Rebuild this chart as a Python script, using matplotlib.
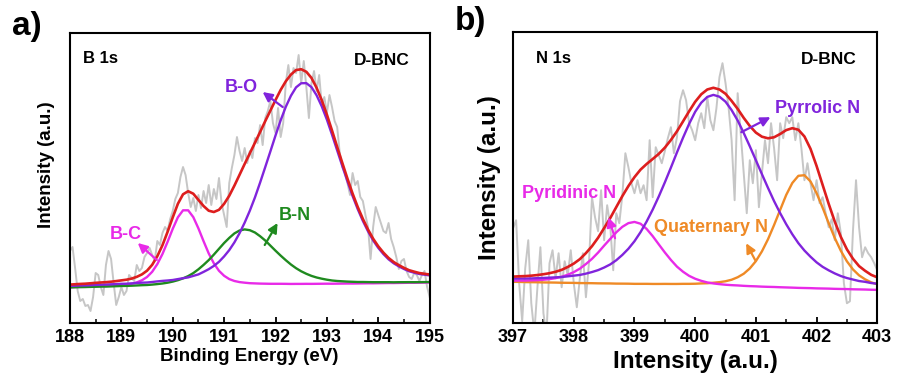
import numpy as np
import matplotlib
matplotlib.use("Agg")
import matplotlib.pyplot as plt
from matplotlib.ticker import MultipleLocator

plt.rcParams['font.family'] = ['Liberation Sans', 'DejaVu Sans']
plt.rcParams['font.weight'] = 'bold'
plt.rcParams['axes.labelweight'] = 'bold'

# ---------------- panel a: B 1s ----------------
be_a = np.round(np.arange(188.0, 195.001, 0.1), 1)
raw_be_a = np.round(np.arange(188.0, 195.001, 0.05), 2)
raw_a = [72, 76, 55, 32, 22, 24, 17, 18, 12, 26, 50, 48, 36, 28, 58, 72, 64, 40, 18, 26,
         36, 28, 32, 48, 45, 42, 58, 52, 55, 66, 70, 75, 68, 62, 82, 78, 90, 96, 92, 104,
         112, 124, 130, 146, 156, 148, 130, 116,
         125, 112, 128, 115, 132, 120, 138, 118, 134, 124, 145, 120,
         108, 96, 140, 155, 168, 186, 172, 162, 175, 160, 172, 165, 185, 180, 198, 178, 205, 212, 222, 200,
         190, 215, 186, 200, 240, 258, 236, 255, 250, 268, 240, 262, 236, 205,
         240, 252, 232, 248, 218, 226,
         210, 228, 216, 202, 196, 170, 156, 150, 140, 128, 150, 138, 142, 126, 122, 108, 96, 64, 96, 116,
         108, 100, 92, 90, 100, 84, 76, 66, 54, 62, 64, 52, 46, 44, 50, 48, 42, 48, 52, 36,
         26]
bg_a = [35.0, 35.1, 35.2, 35.2, 35.3, 35.4, 35.5, 35.5, 35.6, 35.7,
        35.8, 35.8, 35.9, 36.0, 36.1, 36.1, 36.2, 36.3, 36.4, 36.4,
        36.5, 36.6, 36.7, 36.7, 36.8, 36.9, 37.0, 37.0, 37.1, 37.2,
        37.3, 37.3, 37.4, 37.5, 37.6, 37.6, 37.7, 37.8, 37.9, 37.9,
        38.0, 38.1, 38.2, 38.2, 38.3, 38.4, 38.5, 38.5, 38.6, 38.7,
        38.8, 38.8, 38.9, 39.0, 39.1, 39.1, 39.2, 39.3, 39.4, 39.4,
        39.5, 39.6, 39.7, 39.7, 39.8, 39.9, 40.0, 40.0, 40.1, 40.2,
        40.3]
b_c = [0.7, 0.8, 0.85, 0.95, 1.1, 1.2, 1.3, 1.4, 1.6, 1.9,
       2.2, 2.7, 3.4, 4.6, 6.6, 9.9, 15.0, 22.6, 32.6, 44.8,
       57.7, 69.1, 76.0, 76.0, 69.1, 57.7, 44.8, 32.6, 22.6, 15.0,
       9.9, 6.6, 4.6, 3.4, 2.7, 2.2, 1.9, 1.6, 1.4, 1.3,
       1.2, 1.1, 0.95, 0.85, 0.8, 0.7, 0.66, 0.62, 0.58, 0.54,
       0.5, 0.47, 0.44, 0.41, 0.38, 0.36, 0.34, 0.32, 0.3, 0.29,
       0.28, 0.27, 0.26, 0.25, 0.24, 0.23, 0.22, 0.21, 0.2, 0.2,
       0.19]
b_n = [0.6, 0.65, 0.7, 0.75, 0.8, 0.85, 0.9, 0.95, 1.0, 1.1,
       1.2, 1.3, 1.4, 1.55, 1.7, 1.9, 2.2, 2.6, 3.1, 3.9,
       4.9, 6.2, 7.9, 10.2, 13.1, 16.8, 21.1, 25.9, 31.3, 37.0,
       42.7, 47.8, 52.2, 55.0, 56.0, 55.2, 52.8, 49.0, 44.6, 39.5,
       34.3, 29.3, 24.6, 20.3, 16.5, 13.3, 10.7, 8.6, 6.9, 5.6,
       4.5, 3.7, 3.1, 2.7, 2.3, 2.1, 1.8, 1.7, 1.5, 1.4,
       1.3, 1.2, 1.1, 1.0, 1.0, 0.9, 0.85, 0.8, 0.75, 0.7,
       0.7]
b_o = [2.1, 2.2, 2.3, 2.4, 2.5, 2.7, 2.8, 3.0, 3.1, 3.2,
       3.4, 3.5, 3.7, 4.0, 4.2, 4.4, 4.8, 5.3, 5.7, 6.1,
       6.5, 7.3, 8.1, 8.9, 10.3, 11.7, 14.1, 16.8, 20.0, 24.0,
       29.3, 35.6, 43.2, 52.3, 62.8, 74.7, 87.9, 102.6, 118.0, 133.7,
       149.5, 164.6, 178.0, 189.1, 197.4, 201.4, 201.4, 197.4, 189.1, 178.0,
       164.6, 149.5, 133.7, 118.0, 102.6, 87.9, 74.7, 62.8, 52.3, 43.2,
       35.6, 29.3, 24.0, 20.0, 16.8, 14.1, 11.7, 10.3, 8.9, 8.1,
       7.3]

# ---------------- panel b: N 1s ----------------
be_b = np.round(np.arange(397.0, 403.001, 0.1), 1)
raw_be_b = np.round(np.arange(397.0, 403.001, 0.05), 2)
raw_b = [95, 103, 40, 2, 55, 83, 20, -10, 35, 76, 10, -12, 60, 73, 45, 70, 36, 62, 48, 73,
         40, 16, 45, 70, 26, 60, 126, 106, 92, 133, 83, 118, 98, 53, 110, 100, 128, 170, 156, 140,
         130,
         143, 130, 138, 123, 183, 126, 176, 168, 160, 172, 185, 196, 170, 186, 222, 233, 223, 200, 193,
         183, 200, 210, 195, 226, 203, 193, 215, 246, 260, 240, 216, 183, 123, 230, 190, 150, 110, 163, 140,
         173, 116, 150, 183, 160, 200, 175, 143, 200, 185, 206, 200, 206, 183, 200, 175, 143, 160, 140, 123,
         143, 120, 126, 110, 96, 104, 83, 110, 90, 40, 20, 22, 93, 143, 96, 66, 76, 70, 66, 60,
         53]
bg_b = [41.0, 40.9, 40.7, 40.6, 40.5, 40.3, 40.2, 40.1, 39.9, 39.8,
        39.7, 39.5, 39.4, 39.3, 39.1, 39.0, 38.9, 38.7, 38.6, 38.5,
        38.3, 38.2, 38.1, 37.9, 37.8, 37.7, 37.5, 37.4, 37.3, 37.1,
        37.0, 36.9, 36.7, 36.6, 36.5, 36.3, 36.2, 36.1, 35.9, 35.8,
        35.7, 35.5, 35.4, 35.3, 35.1, 35.0, 34.9, 34.7, 34.6, 34.5,
        34.3, 34.2, 34.1, 33.9, 33.8, 33.7, 33.5, 33.4, 33.3, 33.1,
        33.0]
pyridinic = [1.6, 1.8, 2.0, 2.3, 2.6, 3.2, 3.9, 5.0, 6.6, 8.7,
             11.4, 15.1, 19.8, 25.1, 31.5, 38.6, 45.4, 52.2, 57.8, 61.6,
             63.0, 61.3, 56.2, 49.2, 41.1, 33.1, 25.8, 19.2, 14.2, 10.3,
             7.5, 5.5, 4.1, 3.2, 2.6, 2.2, 1.9, 1.7, 1.5, 1.3,
             1.2, 1.1, 1.0, 0.95, 0.9, 0.8, 0.7, 0.67, 0.63, 0.6,
             0.57, 0.55, 0.52, 0.5, 0.47, 0.46, 0.44, 0.43, 0.41, 0.4,
             0.38]
pyrrolic = [3.6, 3.8, 4.0, 4.2, 4.6, 5.0, 5.4, 5.8, 6.3, 7.1,
            7.9, 8.8, 10.2, 11.9, 14.0, 16.7, 19.9, 24.3, 29.7, 36.0,
            43.7, 52.9, 63.6, 75.7, 88.9, 103.1, 118.1, 133.4, 148.2, 162.2,
            174.4, 183.6, 189.6, 191.7, 190.0, 185.2, 176.9, 166.6, 154.3, 141.1,
            127.3, 113.5, 99.9, 86.8, 75.0, 64.0, 54.1, 45.4, 38.1, 32.0,
            26.6, 22.2, 18.8, 15.9, 13.4, 11.5, 10.2, 8.8, 8.1, 7.1,
            6.5]
quaternary = [0.41, 0.43, 0.45, 0.47, 0.49, 0.51, 0.54, 0.56, 0.58, 0.62,
              0.65, 0.68, 0.72, 0.75, 0.8, 0.84, 0.89, 0.93, 1.0, 1.05,
              1.1, 1.2, 1.3, 1.4, 1.5, 1.65, 1.8, 1.9, 2.1, 2.3,
              2.5, 2.9, 3.3, 3.9, 4.6, 5.7, 7.3, 9.9, 13.6, 19.0,
              26.4, 36.4, 48.6, 62.9, 78.2, 93.3, 105.3, 112.7, 113.4, 107.3,
              95.8, 81.3, 65.9, 51.3, 38.6, 28.2, 20.3, 14.5, 10.6, 7.8,
              6.0]

RED = '#DD1E1E'
PURPLE = '#8024DC'
MAGENTA = '#E82AE8'
GREEN = '#1F8A1F'
ORANGE = '#EF8A26'
GRAY = '#C6C6C6'

fig = plt.figure(figsize=(8.97, 3.83), dpi=100)
ax1 = fig.add_axes([0.078, 0.1567, 0.401, 0.757])
ax2 = fig.add_axes([0.572, 0.156, 0.406, 0.760])


def style_axes(ax, xmin, xmax, ytop):
    ax.set_xlim(xmin, xmax)
    ax.set_ylim(0, ytop)
    ax.xaxis.set_major_locator(MultipleLocator(1))
    ax.xaxis.set_minor_locator(MultipleLocator(0.5))
    ax.set_yticks([])
    ax.tick_params(axis='x', which='major', direction='in', length=4.5, width=1.3,
                   labelsize=13, pad=4, top=False)
    ax.tick_params(axis='x', which='minor', direction='in', length=3, width=1.1, top=False)
    for s in ax.spines.values():
        s.set_linewidth(1.5)


def label(ax, text, pos, tail, head, color):
    ax.text(pos[0], pos[1], text, color=color, fontsize=13, ha='center', va='center')
    ax.annotate('', xy=head, xytext=tail,
                arrowprops=dict(arrowstyle='-|>', color=color, lw=1.6,
                                mutation_scale=14, shrinkA=0, shrinkB=0))


# panel a
bg = np.array(bg_a)
ax1.plot(raw_be_a, raw_a, color=GRAY, lw=1.4)
ax1.plot(be_a, bg + np.array(b_c), color=MAGENTA, lw=1.7)
ax1.plot(be_a, bg + np.array(b_n), color=GREEN, lw=1.7)
ax1.plot(be_a, bg + np.array(b_o), color=PURPLE, lw=1.7)
ax1.plot(be_a, bg + np.array(b_c) + np.array(b_n) + np.array(b_o), color=RED, lw=1.9)
style_axes(ax1, 188, 195, 290)
ax1.set_xlabel('Binding Energy (eV)', fontsize=13.5)
ax1.xaxis.set_label_coords(0.497, -0.086)
ax1.set_ylabel('Intensity (a.u.)', fontsize=13.5)
ax1.yaxis.set_label_coords(-0.042, 0.545)
ax1.text(0.036, 0.912, 'B 1s', transform=ax1.transAxes, fontsize=12, va='center', ha='left')
ax1.text(0.944, 0.907, 'D-BNC', transform=ax1.transAxes, fontsize=12.5, va='center', ha='right')

label(ax1, 'B-O', (191.33, 236), (192.14, 216), (191.75, 231), PURPLE)
label(ax1, 'B-C', (189.09, 89), (189.69, 63), (189.32, 80), MAGENTA)
label(ax1, 'B-N', (192.37, 108), (191.79, 78), (192.04, 100), GREEN)

# panel b
bg = np.array(bg_b)
ax2.plot(raw_be_b, raw_b, color=GRAY, lw=1.4)
ax2.plot(be_b, bg + np.array(quaternary), color=ORANGE, lw=1.7)
ax2.plot(be_b, bg + np.array(pyridinic), color=MAGENTA, lw=1.7)
ax2.plot(be_b, bg + np.array(pyrrolic), color=PURPLE, lw=1.7)
ax2.plot(be_b, bg + np.array(pyridinic) + np.array(pyrrolic) + np.array(quaternary), color=RED, lw=1.9)
style_axes(ax2, 397, 403, 291)
ax2.set_xlabel('Intensity (a.u.)', fontsize=17.5)
ax2.xaxis.set_label_coords(0.5, -0.092)
ax2.set_ylabel('Intensity (a.u.)', fontsize=17.5)
ax2.yaxis.set_label_coords(-0.033, 0.5)
ax2.text(0.063, 0.908, 'N 1s', transform=ax2.transAxes, fontsize=12, va='center', ha='left')
ax2.text(0.942, 0.905, 'D-BNC', transform=ax2.transAxes, fontsize=12.5, va='center', ha='right')

label(ax2, 'Pyrrolic N', (402.01, 215), (400.76, 191), (401.24, 206), PURPLE)
label(ax2, 'Pyridinic N', (397.92, 130), (398.68, 85), (398.57, 106), MAGENTA)
label(ax2, 'Quaternary N', (400.26, 96), (400.99, 63), (400.84, 80), ORANGE)

fig.text(0.0134, 0.93, 'a)', fontsize=24, va='center', ha='left')
fig.text(0.507, 0.943, 'b)', fontsize=24, va='center', ha='left')

fig.savefig('out.png', dpi=100)
